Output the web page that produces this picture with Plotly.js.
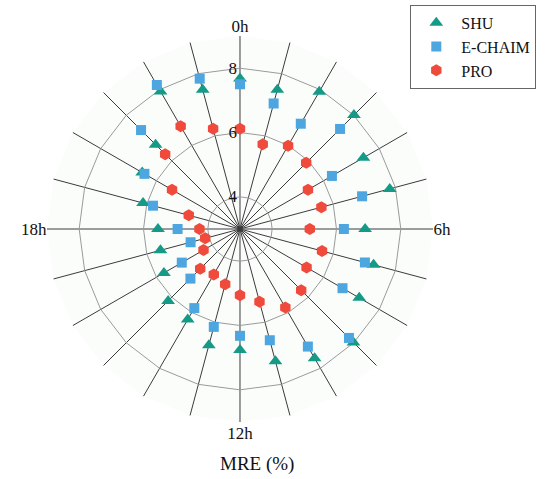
<!DOCTYPE html>
<html>
<head>
<meta charset="utf-8">
<script src="https://cdn.plot.ly/plotly-3.0.1.min.js"></script>
<style>
html,body{margin:0;padding:0;background:#fff;}
#chart{width:550px;height:479px;}
</style>
</head>
<body>
<div id="chart"></div>
<script>
var hours = ["0h","1h","2h","3h","4h","5h","6h","7h","8h","9h","10h","11h",
             "12h","13h","14h","15h","16h","17h","18h","19h","20h","21h","22h","23h"];
var shownHourLabels = ["0h","6h","12h","18h"];
var radialTicks = [4, 6, 8];

var shu    = [7.68,7.48,7.93,8.01,7.43,7.82,6.89,7.30,7.28,7.99,7.64,7.26,
              6.76,6.74,6.25,6.16,5.73,5.56,5.55,6.12,6.51,6.71,7.94,7.48];
var echaim = [7.50,7.04,6.78,7.40,6.30,6.93,6.23,7.02,6.68,7.79,7.22,6.58,
              6.32,6.15,5.84,5.18,5.09,4.59,4.94,5.80,6.43,7.35,8.17,7.84];
var pro    = [6.12,5.73,5.99,5.91,5.44,5.62,5.17,5.64,5.39,5.69,5.82,5.34,
              5.06,4.78,4.63,4.75,4.31,4.12,4.26,4.65,5.44,6.29,6.69,6.23];

var serif = "Liberation Serif, Times New Roman, serif";

function series(name, r, symbol, color, size) {
  return {
    type: "scatterpolar",
    mode: "markers",
    name: name,
    r: r,
    theta: hours,
    marker: {symbol: symbol, color: color, size: size, line: {width: 0}},
    cliponaxis: false
  };
}

var data = [
  series("SHU", shu, "triangle-up", "#159a87", 12),
  series("E-CHAIM", echaim, "square", "#4da6df", 10),
  series("PRO", pro, "hexagon", "#ef4a3b", 12)
];

var layout = {
  width: 550,
  height: 479,
  margin: {l: 0, r: 0, t: 0, b: 0},
  paper_bgcolor: "#ffffff",
  font: {family: serif, size: 16, color: "#111"},
  showlegend: true,
  legend: {
    x: 0.746, y: 0.99, xanchor: "left", yanchor: "top",
    bordercolor: "#666", borderwidth: 1, bgcolor: "#ffffff",
    font: {family: serif, size: 16, color: "#111"},
    tracegroupgap: 0, itemwidth: 40
  },
  polar: {
    domain: {x: [0.08545, 0.78727], y: [0.1190, 0.9248]},
    bgcolor: "#fbfdfb",
    gridshape: "linear",
    angularaxis: {
      type: "category",
      categoryarray: hours,
      direction: "clockwise",
      rotation: 90,
      tickmode: "array",
      tickvals: hours,
      ticktext: hours.map(function(h){ return shownHourLabels.indexOf(h) >= 0 ? h : ""; }),
      ticks: "",
      showline: false,
      gridcolor: "#3a3a3a",
      gridwidth: 1,
      tickfont: {family: serif, size: 17, color: "#111"}
    },
    radialaxis: {
      range: [3, 9],
      angle: 90,
      tickangle: 90,
      tickmode: "array",
      tickvals: radialTicks,
      ticktext: radialTicks.map(String),
      ticks: "",
      showline: false,
      gridcolor: "#9a9a9a",
      gridwidth: 1,
      side: "counterclockwise",
      tickfont: {family: serif, size: 17, color: "#111"}
    }
  },
  annotations: [{
    text: "MRE (%)",
    xref: "paper", yref: "paper",
    x: 257/550, y: 1 - 464/479,
    xanchor: "center", yanchor: "middle",
    showarrow: false,
    font: {family: serif, size: 19, color: "#111"}
  }]
};

Plotly.newPlot("chart", data, layout, {displayModeBar: false, staticPlot: true});
</script>
</body>
</html>
